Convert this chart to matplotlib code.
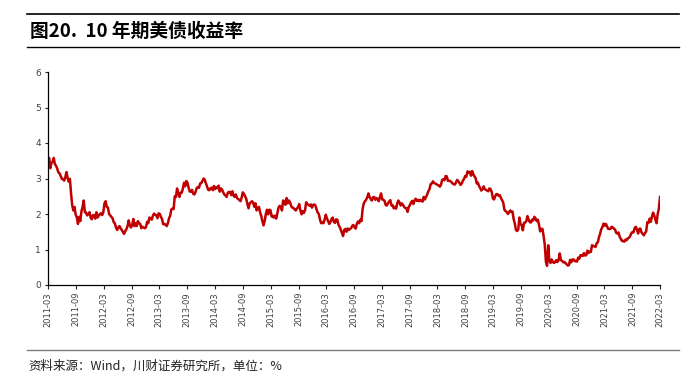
import matplotlib
matplotlib.use("Agg")
import matplotlib.pyplot as plt
import matplotlib.dates as mdates
import pandas as pd
import numpy as np

plt.rcParams['font.family'] = ['Noto Sans CJK SC', 'DejaVu Sans']

title = "图20.  10 年期美债收益率"
source = "资料来源：Wind，川财证券研究所，单位：%"

start_date = "2011-03-01"
end_date = "2022-03-01"

# weekly readings of the US 10Y yield (%), 4 per month, Mar 2011 - Mar 2022
y2011 = [3.49, 3.58, 3.29, 3.44, 3.47, 3.58, 3.40, 3.36, 3.28, 3.17, 3.15, 3.07,
         2.99, 2.98, 2.94, 3.03, 3.18, 3.02, 2.91, 2.99, 2.58, 2.25, 2.10, 2.20,
         1.98, 1.91, 1.72, 1.92, 1.80, 2.07, 2.20, 2.38, 2.05, 2.04, 1.96, 2.00,
         2.05, 1.90, 1.85, 1.97]
y2012 = [1.96, 1.87, 2.05, 1.90, 1.95, 2.00, 2.02, 1.97, 2.05, 2.30, 2.36, 2.20,
         2.18, 2.00, 1.96, 1.92, 1.88, 1.77, 1.74, 1.62, 1.55, 1.62, 1.66, 1.60,
         1.55, 1.49, 1.44, 1.52, 1.57, 1.66, 1.82, 1.68, 1.62, 1.68, 1.86, 1.66,
         1.74, 1.66, 1.80, 1.74, 1.72, 1.60, 1.64, 1.62, 1.60, 1.63, 1.78, 1.74]
y2013 = [1.90, 1.87, 1.84, 1.95, 2.01, 1.98, 1.96, 1.88, 2.02, 2.00, 1.92, 1.85,
         1.71, 1.72, 1.70, 1.66, 1.74, 1.88, 1.95, 2.13, 2.15, 2.14, 2.50, 2.48,
         2.72, 2.58, 2.48, 2.60, 2.60, 2.71, 2.88, 2.78, 2.93, 2.88, 2.74, 2.63,
         2.63, 2.68, 2.57, 2.55, 2.62, 2.73, 2.76, 2.74, 2.86, 2.87, 2.93, 3.00]
y2014 = [2.97, 2.86, 2.78, 2.68, 2.67, 2.73, 2.74, 2.67, 2.79, 2.70, 2.75, 2.73,
         2.80, 2.63, 2.72, 2.69, 2.61, 2.55, 2.52, 2.48, 2.60, 2.62, 2.62, 2.53,
         2.64, 2.52, 2.48, 2.55, 2.45, 2.42, 2.40, 2.36, 2.46, 2.61, 2.57, 2.50,
         2.43, 2.28, 2.16, 2.30, 2.33, 2.36, 2.32, 2.20, 2.30, 2.10, 2.16, 2.20]
y2015 = [2.05, 1.95, 1.80, 1.68, 1.80, 2.00, 2.12, 1.99, 2.12, 2.11, 1.93, 1.95,
         1.90, 1.95, 1.87, 2.03, 2.18, 2.23, 2.20, 2.10, 2.38, 2.36, 2.26, 2.45,
         2.30, 2.38, 2.33, 2.22, 2.18, 2.17, 2.13, 2.10, 2.15, 2.20, 2.28, 2.10,
         1.99, 2.08, 2.03, 2.10, 2.33, 2.28, 2.26, 2.23, 2.27, 2.18, 2.25, 2.27]
y2016 = [2.24, 2.13, 2.04, 2.00, 1.84, 1.74, 1.76, 1.74, 1.84, 1.98, 1.88, 1.80,
         1.72, 1.77, 1.86, 1.90, 1.78, 1.75, 1.85, 1.84, 1.70, 1.64, 1.56, 1.47,
         1.38, 1.55, 1.58, 1.50, 1.59, 1.55, 1.58, 1.60, 1.67, 1.69, 1.62, 1.59,
         1.73, 1.79, 1.74, 1.84, 1.80, 2.15, 2.30, 2.36, 2.40, 2.47, 2.58, 2.48]
y2017 = [2.42, 2.38, 2.47, 2.48, 2.40, 2.45, 2.42, 2.36, 2.48, 2.58, 2.41, 2.40,
         2.37, 2.25, 2.24, 2.30, 2.35, 2.39, 2.24, 2.25, 2.16, 2.20, 2.15, 2.30,
         2.38, 2.32, 2.24, 2.30, 2.26, 2.20, 2.17, 2.16, 2.06, 2.20, 2.25, 2.33,
         2.37, 2.28, 2.38, 2.43, 2.37, 2.40, 2.36, 2.40, 2.37, 2.35, 2.48, 2.41]
y2018 = [2.48, 2.55, 2.64, 2.70, 2.84, 2.86, 2.92, 2.87, 2.86, 2.84, 2.82, 2.80,
         2.77, 2.83, 2.96, 2.98, 2.95, 3.07, 3.06, 2.93, 2.94, 2.93, 2.90, 2.86,
         2.84, 2.83, 2.89, 2.96, 2.93, 2.87, 2.82, 2.86, 2.94, 2.99, 3.07, 3.05,
         3.20, 3.16, 3.19, 3.08, 3.21, 3.12, 3.06, 3.01, 2.86, 2.88, 2.79, 2.73]
y2019 = [2.66, 2.70, 2.78, 2.70, 2.68, 2.66, 2.64, 2.72, 2.70, 2.62, 2.44, 2.41,
         2.50, 2.56, 2.56, 2.51, 2.53, 2.45, 2.39, 2.32, 2.12, 2.08, 2.06, 2.00,
         2.04, 2.10, 2.06, 2.07, 1.86, 1.74, 1.55, 1.52, 1.56, 1.90, 1.72, 1.68,
         1.54, 1.75, 1.76, 1.80, 1.94, 1.84, 1.77, 1.76, 1.84, 1.82, 1.92, 1.88]
y2020 = [1.80, 1.84, 1.70, 1.51, 1.58, 1.58, 1.38, 1.14, 0.66, 0.54, 1.12, 0.68,
         0.62, 0.72, 0.65, 0.62, 0.65, 0.70, 0.65, 0.70, 0.89, 0.70, 0.68, 0.64,
         0.65, 0.62, 0.58, 0.55, 0.56, 0.71, 0.64, 0.72, 0.72, 0.67, 0.68, 0.66,
         0.77, 0.74, 0.84, 0.84, 0.82, 0.90, 0.83, 0.84, 0.97, 0.90, 0.94, 0.93]
y2021 = [1.12, 1.10, 1.09, 1.07, 1.17, 1.20, 1.34, 1.44, 1.57, 1.63, 1.73, 1.67,
         1.72, 1.66, 1.58, 1.58, 1.58, 1.64, 1.62, 1.59, 1.56, 1.47, 1.45, 1.48,
         1.36, 1.30, 1.24, 1.24, 1.22, 1.28, 1.26, 1.31, 1.33, 1.37, 1.45, 1.49,
         1.48, 1.60, 1.64, 1.56, 1.45, 1.58, 1.59, 1.48, 1.44, 1.40, 1.46, 1.51]
y2022 = [1.77, 1.75, 1.87, 1.78, 1.93, 2.04, 1.96, 1.84, 1.74, 2.00, 2.15, 2.48]

values = y2011 + y2012 + y2013 + y2014 + y2015 + y2016 + y2017 + y2018 + y2019 + y2020 + y2021 + y2022
dates = pd.date_range(start_date, end_date, periods=len(values))
tick_dates = pd.date_range(start_date, end_date, freq="6MS")

fig = plt.figure(figsize=(6.94, 3.84), dpi=100)
ax = fig.add_axes([48/694, 1 - 285/384, 612/694, 213/384])

ax.plot(dates, values, color="#C00000", linewidth=1.8)

ax.set_xlim(pd.Timestamp(start_date), pd.Timestamp(end_date))
ax.set_ylim(0, 6)
ax.set_yticks(range(0, 7))
ax.set_xticks(tick_dates)
ax.xaxis.set_major_formatter(mdates.DateFormatter("%Y-%m"))

ax.tick_params(axis="x", colors="#222222", length=3, width=0.8, pad=2)
ax.tick_params(axis="y", colors="#222222", length=2, width=0.8, pad=3)
for lbl in ax.get_xticklabels():
    lbl.set_rotation(90)
    lbl.set_family("DejaVu Sans")
    lbl.set_fontsize(6)
    lbl.set_color("#404040")
for lbl in ax.get_yticklabels():
    lbl.set_family("DejaVu Sans")
    lbl.set_fontsize(6.5)
    lbl.set_color("#404040")

for s in ["top", "right"]:
    ax.spines[s].set_visible(False)
for s in ["left", "bottom"]:
    ax.spines[s].set_color("#000000")
    ax.spines[s].set_linewidth(0.9)

# header / footer rules and texts
fig.add_artist(plt.Line2D([27/694, 679/694], [1 - 14/384, 1 - 14/384], color="black", lw=1.2))
fig.add_artist(plt.Line2D([27/694, 679/694], [1 - 47/384, 1 - 47/384], color="black", lw=1.0))
fig.add_artist(plt.Line2D([27/694, 679/694], [1 - 350/384, 1 - 350/384], color="#7f7f7f", lw=1.0))
fig.text(30/694, 1 - 31/384, title, fontsize=13.5, fontweight="bold", va="center", ha="left")
fig.text(28/694, 1 - 366/384, source, fontsize=9, va="center", ha="left", color="#222222",
         style="italic")

fig.savefig("out.png", dpi=100)
